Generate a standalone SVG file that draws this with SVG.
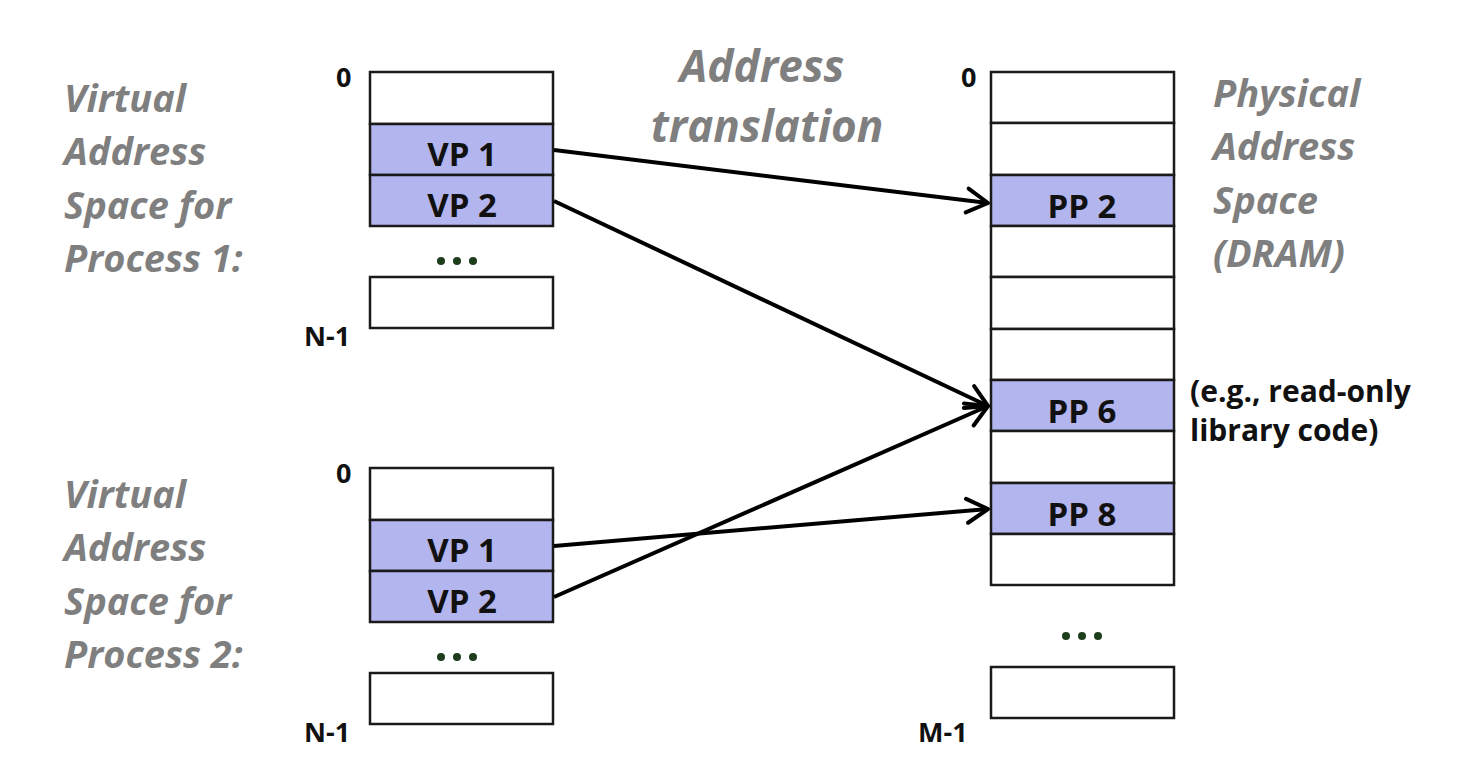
<svg xmlns="http://www.w3.org/2000/svg" width="1480" height="765" viewBox="0 0 1480 765">
<defs>
<marker id="arr" markerUnits="userSpaceOnUse" markerWidth="30" markerHeight="30" viewBox="0 0 30 30" refX="27" refY="15" orient="auto">
<path d="M6,3 L27,15 L6,27" fill="none" stroke="#000" stroke-width="4" stroke-linecap="round" stroke-linejoin="round"/>
</marker>
</defs>
<style>
.cell{fill:#fff;stroke:#1a1a1a;stroke-width:2.5}
.pg{fill:#b3b5ee;stroke:#1a1a1a;stroke-width:2.5}
.lbl{font-family:"Open Sans","Liberation Sans",sans-serif;font-weight:bold;font-size:33px;fill:#111;text-anchor:middle}
.idx{font-family:"Open Sans","Liberation Sans",sans-serif;font-weight:bold;font-size:27px;fill:#111}
.ttl{font-family:"Open Sans","Liberation Sans",sans-serif;font-weight:bold;font-style:italic;font-size:38px;fill:#7f7f7f}
.big{font-size:44px}
.note{font-family:"Open Sans","Liberation Sans",sans-serif;font-weight:bold;font-size:30px;fill:#111}
.dots{fill:#1d3d1d}
.conn{stroke:#000;stroke-width:4;fill:none;marker-end:url(#arr)}
</style>
<rect width="1480" height="765" fill="#fff"/>

<g id="title">
<text class="ttl big" x="762" y="82" text-anchor="middle">Address</text>
<text class="ttl big" x="767" y="142" text-anchor="middle">translation</text>
</g>

<g id="label-p1">
<text class="ttl" x="64" y="112">Virtual</text>
<text class="ttl" x="64" y="165">Address</text>
<text class="ttl" x="64" y="219">Space for</text>
<text class="ttl" x="64" y="272">Process 1:</text>
</g>
<g id="label-p2">
<text class="ttl" x="64" y="508">Virtual</text>
<text class="ttl" x="64" y="561">Address</text>
<text class="ttl" x="64" y="615">Space for</text>
<text class="ttl" x="64" y="668">Process 2:</text>
</g>
<g id="label-phys">
<text class="ttl" x="1213" y="107">Physical</text>
<text class="ttl" x="1213" y="160">Address</text>
<text class="ttl" x="1213" y="214">Space</text>
<text class="ttl" x="1213" y="267">(DRAM)</text>
</g>

<g id="vas1">
<text class="idx" x="336" y="87">0</text>
<rect class="cell" x="370" y="72" width="183" height="52"/>
<rect class="pg" x="370" y="124" width="183" height="51"/>
<text class="lbl" x="462" y="166">VP 1</text>
<rect class="pg" x="370" y="175" width="183" height="51"/>
<text class="lbl" x="462" y="217">VP 2</text>
<circle class="dots" cx="441" cy="261" r="4"/><circle class="dots" cx="457" cy="261" r="4"/><circle class="dots" cx="473" cy="261" r="4"/>
<rect class="cell" x="370" y="277" width="183" height="51"/>
<text class="idx" x="304" y="346">N-1</text>
</g>

<g id="vas2">
<text class="idx" x="336" y="483">0</text>
<rect class="cell" x="370" y="468" width="183" height="52"/>
<rect class="pg" x="370" y="520" width="183" height="51"/>
<text class="lbl" x="462" y="562">VP 1</text>
<rect class="pg" x="370" y="571" width="183" height="51"/>
<text class="lbl" x="462" y="613">VP 2</text>
<circle class="dots" cx="441" cy="657" r="4"/><circle class="dots" cx="457" cy="657" r="4"/><circle class="dots" cx="473" cy="657" r="4"/>
<rect class="cell" x="370" y="673" width="183" height="51"/>
<text class="idx" x="304" y="742">N-1</text>
</g>

<g id="phys">
<text class="idx" x="961" y="87">0</text>
<rect class="cell" x="991" y="72" width="183" height="51"/>
<rect class="cell" x="991" y="123" width="183" height="52"/>
<rect class="pg" x="991" y="175" width="183" height="51"/>
<text class="lbl" x="1082" y="218">PP 2</text>
<rect class="cell" x="991" y="226" width="183" height="51"/>
<rect class="cell" x="991" y="277" width="183" height="52"/>
<rect class="cell" x="991" y="329" width="183" height="51"/>
<rect class="pg" x="991" y="380" width="183" height="51"/>
<text class="lbl" x="1082" y="423">PP 6</text>
<rect class="cell" x="991" y="431" width="183" height="52"/>
<rect class="pg" x="991" y="483" width="183" height="51"/>
<text class="lbl" x="1082" y="526">PP 8</text>
<rect class="cell" x="991" y="534" width="183" height="51"/>
<circle class="dots" cx="1066" cy="636" r="4"/><circle class="dots" cx="1082" cy="636" r="4"/><circle class="dots" cx="1098" cy="636" r="4"/>
<rect class="cell" x="991" y="667" width="183" height="51"/>
<text class="idx" x="918" y="742">M-1</text>
</g>

<g id="note">
<text class="note" x="1190" y="402">(e.g., read-only</text>
<text class="note" x="1190" y="441">library code)</text>
</g>

<g id="connectors">
<line class="conn" x1="554" y1="150" x2="988" y2="203"/>
<line class="conn" x1="554" y1="201" x2="988" y2="406"/>
<line class="conn" x1="554" y1="546" x2="988" y2="509"/>
<line class="conn" x1="554" y1="597" x2="988" y2="406"/>
</g>
</svg>
